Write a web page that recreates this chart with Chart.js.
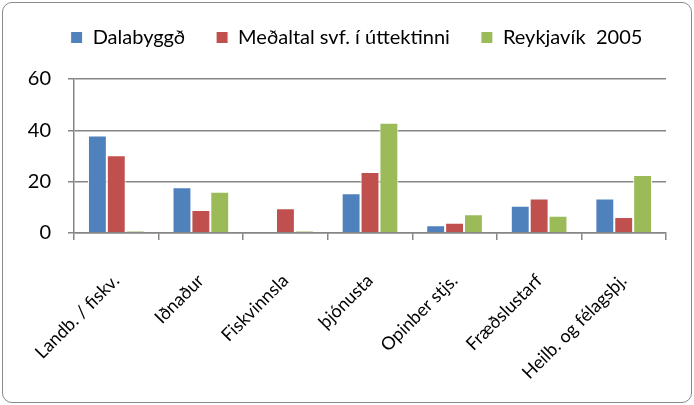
<!DOCTYPE html>
<html>
<head>
<meta charset="utf-8">
<script src="https://cdn.jsdelivr.net/npm/chart.js@4"></script>
<style>
  html, body { margin: 0; padding: 0; background: #fff; }
  #frame {
    position: absolute; left: 2px; top: 2px;
    width: 688px; height: 399px;
    border: 1px solid #8a8a8a; border-radius: 10px;
    overflow: hidden;
  }
  #chart { display: block; }
</style>
</head>
<body>
<div id="frame"><canvas id="chart" width="688" height="399"></canvas></div>
<script>
const categories = ['Landb. / fiskv.', 'Iðnaður', 'Fiskvinnsla', 'þjónusta', 'Opinber stjs.', 'Fræðslustarf', 'Heilb. og félagsþj.'];
const dalabyggd = [38, 17.8, 0, 15.5, 3, 10.6, 13.4];
const medaltal = [30.3, 9, 9.6, 23.8, 4, 13.4, 6.2];
const reykjavik = [0.8, 16.1, 0.8, 43, 7.3, 6.7, 22.6];
const yTicks = [0, 20, 40, 60];

const font = 'Lato, "Open Sans", sans-serif';

const data = {
  labels: categories,
  datasets: [
    { label: 'Dalabyggð', data: dalabyggd, backgroundColor: '#4F81BD' },
    { label: 'Meðaltal svf. í úttektinni', data: medaltal, backgroundColor: '#C0504D' },
    { label: 'Reykjavík  2005', data: reykjavik, backgroundColor: '#9BBB59' }
  ]
};
data.datasets.forEach(d => {
  d.borderColor = '#ffffff';
  d.borderWidth = 1;
  d.categoryPercentage = 0.67;
  d.barPercentage = 1;
});

// legend sits a little right of centre in the original
const shiftLegend = {
  id: 'shiftLegend',
  afterLayout(chart) {
    chart.legend.left += 22;
    chart.legend.right += 22;
  }
};

new Chart(document.getElementById('chart'), {
  type: 'bar',
  data: data,
  plugins: [shiftLegend],
  options: {
    responsive: false,
    animation: false,
    layout: { padding: { left: 0, right: 25, top: -6.5, bottom: 0 } },
    plugins: {
      legend: {
        position: 'top',
        labels: {
          color: '#000',
          font: { family: font, size: 20 },
          boxWidth: 12, boxHeight: 12,
          padding: 31
        }
      },
      // empty title used only as a spacer between legend and plot
      title: {
        display: true, text: '', weight: 500,
        font: { size: 1, lineHeight: 1 },
        padding: { top: 0, bottom: 20.5 }
      },
      tooltip: { enabled: false }
    },
    scales: {
      x: {
        afterFit: axis => { axis.height = 169; },
        grid: { display: true, drawOnChartArea: false, color: '#868686', lineWidth: 1.5, tickLength: 7, offset: true },
        border: { color: '#868686', width: 1.5 },
        ticks: { color: '#000', font: { family: font, size: 18 }, minRotation: 45, maxRotation: 45, padding: 30 }
      },
      y: {
        min: 0, max: 60,
        afterBuildTicks: axis => { axis.ticks = yTicks.map(v => ({ value: v })); },
        afterFit: axis => { axis.width = 71; },
        grid: { color: '#868686', lineWidth: 1.5, tickLength: 6 },
        border: { color: '#868686', width: 1.5 },
        ticks: { color: '#000', font: { family: font, size: 20 }, padding: 17 }
      }
    }
  }
});
</script>
</body>
</html>
